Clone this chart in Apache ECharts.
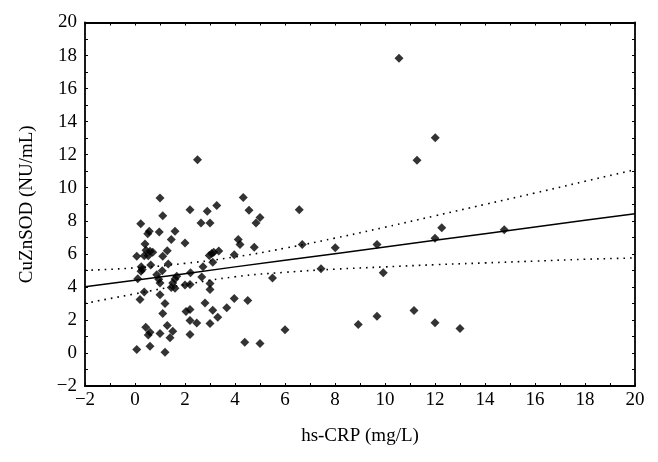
<!DOCTYPE html>
<html>
<head>
<meta charset="utf-8">
<script src="https://cdn.jsdelivr.net/npm/echarts@6/dist/echarts.min.js"></script>
<style>html,body{margin:0;padding:0;background:#fff}#c{width:658px;height:462px}</style>
</head>
<body>
<div id="c"></div>
<script>
// Scatter data: hs-CRP (mg/L), CuZnSOD (NU/mL)
var crp = [10.56,12.01,11.28,2.5,4.33,1.0,4.56,6.57,3.27,2.2,2.89,1.11,5.0,0.23,2.64,3.0,4.84,12.27,14.77,0.57,0.51,0.97,1.6,1.45,4.13,12.0,2.0,0.4,4.2,6.69,9.68,4.77,8.01,
  0.44,0.6,0.71,0.37,0.53,1.29,1.11,0.07,2.97,3.07,3.15,3.35,3.97,
  0.25,0.29,0.24,0.63,1.33,1.09,2.72,3.11,7.44,9.93,2.22,0.87,5.5,1.67,1.6,0.11,0.95,2.67,1.0,1.51,2.0,2.2,3.0,1.45,1.6,3.0,0.37,1.0,0.2,4.51,3.97,1.2,2.8,3.67,2.2,2.04,3.11,11.16,1.11,9.68,3.31,2.2,2.47,3.0,12.0,1.29,8.93,0.43,13.0,6.0,1.51,0.6,0.53,1.0,2.2,1.4,4.39,5.0,0.6,0.07,1.2];
var sod = [17.84,13.02,11.67,11.7,9.41,9.38,8.63,8.67,8.93,8.67,8.57,8.31,8.2,7.82,7.87,7.87,7.87,7.58,7.46,7.36,7.22,7.32,7.36,6.86,6.86,6.94,6.66,6.6,6.56,6.57,6.57,6.39,6.36,
  6.21,6.15,6.09,5.89,5.89,6.19,5.85,5.85,5.9,6.02,6.1,6.17,5.95,
  5.21,5.05,4.94,5.33,5.39,4.97,5.21,5.49,5.09,4.85,4.86,4.74,4.54,4.64,4.47,4.49,4.46,4.6,4.24,4.24,4.12,4.14,4.2,3.96,3.92,3.84,3.69,3.52,3.23,3.17,3.29,3.0,3.03,2.73,2.63,2.51,2.59,2.57,2.39,2.22,2.16,1.96,1.82,1.78,1.83,1.66,1.72,1.56,1.48,1.4,1.32,1.26,1.08,1.18,1.12,0.92,0.65,0.57,0.41,0.21,0.05];

// Fit line and confidence band at even x positions
var bandX   = [-2, 0, 2, 4, 6, 8, 10, 12, 14, 16, 18, 20];
var fitY    = [4.0, 4.40, 4.80, 5.21, 5.61, 6.01, 6.41, 6.82, 7.22, 7.62, 8.03, 8.43];
var upperY  = [5.0, 5.15, 5.42, 5.81, 6.34, 6.95, 7.61, 8.30, 8.99, 9.68, 10.39, 11.09];
var lowerY  = [3.0, 3.58, 4.14, 4.61, 4.88, 5.07, 5.21, 5.34, 5.45, 5.56, 5.67, 5.75];

// Axis settings
var xMin = -2, xMax = 20, yMin = -2, yMax = 20, tickStep = 1, labelStep = 2;

function pairs(xs, ys) { return xs.map(function (v, i) { return [v, ys[i]]; }); }

var font = 'Liberation Serif';
function axisCommon(showLabel) {
  return {
    type: 'value',
    interval: tickStep,
    axisLine: { show: true, onZero: false, lineStyle: { color: '#000', width: 1.8 } },
    axisTick: { show: true, inside: true, length: 3, lineStyle: { color: '#000', width: 1 } },
    splitLine: { show: false },
    axisLabel: {
      show: showLabel,
      color: '#000',
      fontFamily: font,
      fontSize: 19,
      formatter: function (v) {
        if (Math.round(v) % labelStep !== 0) return '';
        return v < 0 ? '\u2212' + Math.abs(v) : String(v);
      }
    }
  };
}

var xBottom = Object.assign(axisCommon(true), {
  min: xMin, max: xMax, position: 'bottom',
  name: 'hs-CRP (mg/L)', nameLocation: 'middle', nameGap: 41,
  nameTextStyle: { color: '#000', fontFamily: font, fontSize: 19 }
});
xBottom.axisLabel.margin = 5;
var xTop = Object.assign(axisCommon(false), { min: xMin, max: xMax, position: 'top' });
var yLeft = Object.assign(axisCommon(true), {
  min: yMin, max: yMax, position: 'left',
  name: 'CuZnSOD (NU/mL)', nameLocation: 'middle', nameGap: 48,
  nameTextStyle: { color: '#000', fontFamily: font, fontSize: 19 }
});
yLeft.axisLabel.margin = 8;
var yRight = Object.assign(axisCommon(false), { min: yMin, max: yMax, position: 'right' });

var chart = echarts.init(document.getElementById('c'), null, { renderer: 'canvas' });
chart.setOption({
  backgroundColor: '#fff',
  animation: false,
  grid: { left: 85, right: 23, top: 22.5, bottom: 76, containLabel: false },
  xAxis: [xBottom, xTop],
  yAxis: [yLeft, yRight],
  series: [
    {
      type: 'line', data: pairs(bandX, upperY), smooth: true, symbol: 'none',
      lineStyle: { color: '#000', width: 1.6, type: [1.6, 5] }, z: 3
    },
    {
      type: 'line', data: pairs(bandX, lowerY), smooth: true, symbol: 'none',
      lineStyle: { color: '#000', width: 1.6, type: [1.6, 5] }, z: 3
    },
    {
      type: 'line', data: pairs(bandX, fitY), symbol: 'none',
      lineStyle: { color: '#000', width: 1.5 }, z: 3
    },
    {
      type: 'scatter', data: pairs(crp, sod), symbol: 'diamond', symbolSize: 9,
      itemStyle: { color: '#000' }, z: 4
    }
  ]
});
</script>
</body>
</html>
